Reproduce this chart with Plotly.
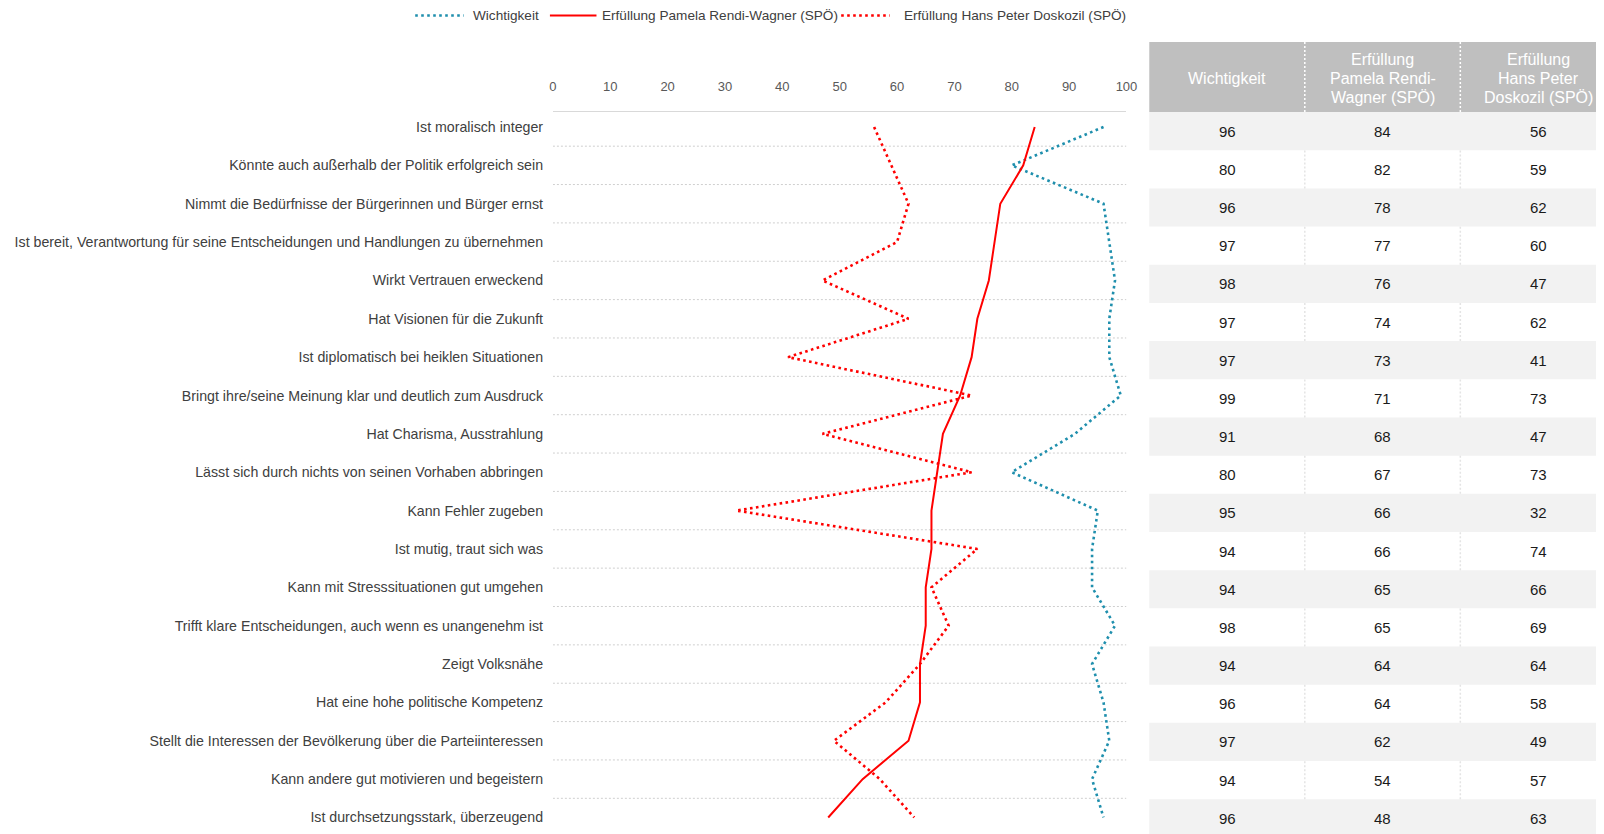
import plotly.graph_objects as go

categories = [
    "Ist moralisch integer",
    "Könnte auch außerhalb der Politik erfolgreich sein",
    "Nimmt die Bedürfnisse der Bürgerinnen und Bürger ernst",
    "Ist bereit, Verantwortung für seine Entscheidungen und Handlungen zu übernehmen",
    "Wirkt Vertrauen erweckend",
    "Hat Visionen für die Zukunft",
    "Ist diplomatisch bei heiklen Situationen",
    "Bringt ihre/seine Meinung klar und deutlich zum Ausdruck",
    "Hat Charisma, Ausstrahlung",
    "Lässt sich durch nichts von seinen Vorhaben abbringen",
    "Kann Fehler zugeben",
    "Ist mutig, traut sich was",
    "Kann mit Stresssituationen gut umgehen",
    "Trifft klare Entscheidungen, auch wenn es unangenehm ist",
    "Zeigt Volksnähe",
    "Hat eine hohe politische Kompetenz",
    "Stellt die Interessen der Bevölkerung über die Parteiinteressen",
    "Kann andere gut motivieren und begeistern",
    "Ist durchsetzungsstark, überzeugend",
]
wichtigkeit = [96, 80, 96, 97, 98, 97, 97, 99, 91, 80, 95, 94, 94, 98, 94, 96, 97, 94, 96]
rendi_wagner = [84, 82, 78, 77, 76, 74, 73, 71, 68, 67, 66, 66, 65, 65, 64, 64, 62, 54, 48]
doskozil = [56, 59, 62, 60, 47, 62, 41, 73, 47, 73, 32, 74, 66, 69, 64, 58, 49, 57, 63]

series_names = ["Wichtigkeit", "Erfüllung Pamela Rendi-Wagner (SPÖ)", "Erfüllung Hans Peter Doskozil (SPÖ)"]
table_headers = [["Wichtigkeit"], ["Erfüllung", "Pamela Rendi-", "Wagner (SPÖ)"], ["Erfüllung", "Hans Peter", "Doskozil (SPÖ)"]]
x_ticks = [0, 10, 20, 30, 40, 50, 60, 70, 80, 90, 100]

W, H = 1604, 834
FONT = "Liberation Sans, Arial, sans-serif"
TEAL = "#1f8fad"
RED = "#ff0000"
DOT = "2.6px,3.4px"

# pixel geometry
row0_px = 119.0
row_h = 38.36
x0_px, x100_px = 546.0, 1125.0
axis_line_px = 102.5
tbl_left = 1148.0
col_w = 157.0
tbl_top = 104.1
tbl_row_h = 38.17
hdr_top = tbl_top - 70.0
hdr_bot = tbl_top
legend_y_px = 7.5

n = len(categories)
y_top = (0 - row0_px) / row_h
y_bot = (H - row0_px) / row_h


def px2paper_x(p):
    return p / W


def px2paper_y(p):
    return 1 - p / H


fig = go.Figure()
styles = [dict(color=TEAL, width=2.6, dash=DOT),
          dict(color=RED, width=2),
          dict(color=RED, width=2.6, dash=DOT)]
for name, vals, st in zip(series_names, [wichtigkeit, rendi_wagner, doskozil], styles):
    fig.add_trace(go.Scatter(x=vals, y=categories, mode="lines", name=name,
                             line=st, showlegend=False))

shapes = []
annotations = []

# custom legend (symbol line + text)
legend_pos = [(407, 456, 463), (543, 590, 594), (837, 886, 898)]
for (lx0, lx1, tx), name, st in zip(legend_pos, series_names, styles):
    shapes.append(dict(type="line", xref="paper", yref="paper",
                       x0=px2paper_x(lx0), x1=px2paper_x(lx1),
                       y0=px2paper_y(legend_y_px), y1=px2paper_y(legend_y_px),
                       line=dict(color=st["color"], width=st["width"], dash=st.get("dash", "solid"))))
    annotations.append(dict(xref="paper", yref="paper", x=px2paper_x(tx), y=px2paper_y(legend_y_px),
                            text=name, showarrow=False, xanchor="left", yanchor="middle",
                            font=dict(family=FONT, size=13.6, color="#404040")))

# dotted gridlines between rows
for i in range(n - 1):
    shapes.append(dict(type="line", xref="x", yref="y", x0=0, x1=100, y0=i + 0.5, y1=i + 0.5,
                       line=dict(color="#cfcfcf", width=1, dash="2px,2px"), layer="below"))

# table header
tbl_right = W + 20
shapes.append(dict(type="rect", xref="paper", yref="paper",
                   x0=px2paper_x(tbl_left), x1=px2paper_x(tbl_right),
                   y0=px2paper_y(hdr_bot), y1=px2paper_y(hdr_top),
                   fillcolor="#bfbfbf", line=dict(width=0), layer="below"))
for c in (1, 2):
    xs = px2paper_x(tbl_left + c * col_w)
    shapes.append(dict(type="line", xref="paper", yref="paper", x0=xs, x1=xs,
                       y0=px2paper_y(hdr_bot), y1=px2paper_y(hdr_top),
                       line=dict(color="white", width=1.5, dash="2px,2px")))
hdr_mid = (hdr_top + hdr_bot) / 2 + 1.1
line_gap = 19.0
for c, lines in enumerate(table_headers):
    k = len(lines)
    for j, txt in enumerate(lines):
        yp = hdr_mid + (j - (k - 1) / 2) * line_gap
        annotations.append(dict(xref="paper", yref="paper",
                                x=px2paper_x(tbl_left + (c + 0.5) * col_w),
                                y=px2paper_y(yp),
                                text=txt, showarrow=False, xanchor="center", yanchor="middle",
                                font=dict(family=FONT, size=16, color="white")))

# table rows
cols = [wichtigkeit, rendi_wagner, doskozil]
for i in range(n):
    r_top = tbl_top + i * tbl_row_h
    r_bot = r_top + tbl_row_h
    if i % 2 == 0:
        shapes.append(dict(type="rect", xref="paper", yref="paper",
                           x0=px2paper_x(tbl_left), x1=px2paper_x(tbl_right),
                           y0=px2paper_y(r_bot), y1=px2paper_y(r_top), fillcolor="#f2f2f2",
                           line=dict(width=0), layer="below"))
    else:
        for c in (1, 2):
            xs = px2paper_x(tbl_left + c * col_w)
            shapes.append(dict(type="line", xref="paper", yref="paper", x0=xs, x1=xs,
                               y0=px2paper_y(r_bot), y1=px2paper_y(r_top),
                               line=dict(color="#e4e4e4", width=1.5, dash="2px,2px")))
    for c, col in enumerate(cols):
        annotations.append(dict(xref="paper", yref="paper",
                                x=px2paper_x(tbl_left + (c + 0.5) * col_w),
                                y=px2paper_y((r_top + r_bot) / 2),
                                text=str(col[i]), showarrow=False,
                                xanchor="center", yanchor="middle",
                                font=dict(family=FONT, size=15, color="#1a1a1a")))

fig.update_layout(
    width=W, height=H,
    margin=dict(l=0, r=0, t=0, b=0),
    paper_bgcolor="white", plot_bgcolor="rgba(0,0,0,0)",
    font=dict(family=FONT, color="#404040"),
    showlegend=False,
    shapes=shapes,
    annotations=annotations,
    xaxis=dict(domain=[x0_px / W, x100_px / W], range=[0, 100], side="top",
               anchor="free", position=px2paper_y(axis_line_px),
               tickvals=x_ticks, showgrid=False, zeroline=False,
               showline=True, linecolor="#d9d9d9", linewidth=1,
               ticks="outside", ticklen=14, tickcolor="rgba(0,0,0,0)",
               tickfont=dict(family=FONT, size=13, color="#595959")),
    yaxis=dict(domain=[0, 1], type="category", categoryarray=categories,
               range=[y_bot, y_top], showgrid=False, zeroline=False, showline=False,
               ticks="outside", ticklen=6, tickcolor="rgba(0,0,0,0)",
               tickfont=dict(family=FONT, size=14.2, color="#404040")),
)

fig.write_html("out.html")
